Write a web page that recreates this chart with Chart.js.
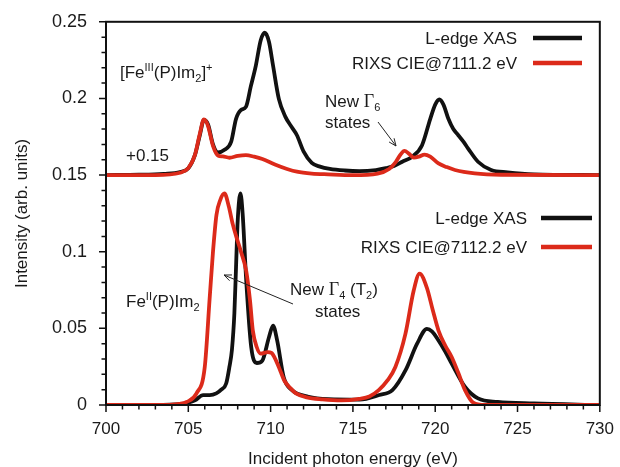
<!DOCTYPE html>
<html>
<head>
<meta charset="utf-8">
<script src="https://cdn.jsdelivr.net/npm/chart.js@4.4.0/dist/chart.umd.min.js"></script>
<style>
  html, body { margin: 0; padding: 0; background: #fff; }
</style>
</head>
<body>
<canvas id="spectra" width="620" height="467"></canvas>
<script>
// Fe(III) spectra, plotted with the +0.15 offset already included
const feIIIXasEnergy = [700, 702, 703.5, 704.5, 705.0, 705.4, 705.7, 705.95, 706.2, 706.5, 706.8, 707.2, 707.6, 707.9, 708.2, 708.5, 708.8, 709.1, 709.4, 709.65, 709.9, 710.15, 710.5, 710.9, 711.3, 711.6, 712.0, 712.5, 713.0, 713.6, 714.5, 715.4, 716.4, 717.0, 717.5, 718.0, 718.6, 719.2, 719.7, 720.0, 720.25, 720.5, 720.8, 721.1, 721.4, 721.7, 722.0, 722.6, 723.4, 724.4, 726, 730];
const feIIIXasIntensity = [0.1500, 0.1502, 0.1508, 0.1520, 0.1545, 0.1630, 0.1760, 0.1860, 0.1830, 0.1700, 0.1648, 0.1665, 0.1716, 0.1867, 0.1925, 0.1945, 0.2080, 0.2213, 0.2380, 0.2429, 0.2370, 0.2213, 0.1997, 0.1880, 0.1810, 0.1760, 0.1655, 0.1580, 0.1555, 0.1540, 0.1530, 0.1526, 0.1533, 0.1545, 0.1560, 0.1587, 0.1620, 0.1695, 0.1867, 0.1960, 0.1993, 0.1960, 0.1867, 0.1800, 0.1760, 0.1720, 0.1673, 0.1587, 0.1533, 0.1518, 0.1505, 0.1500];

const feIIIRixsEnergy = [700, 703, 704.5, 705.0, 705.4, 705.7, 705.95, 706.2, 706.5, 706.8, 707.1, 707.5, 708.0, 708.5, 709.0, 709.5, 710.3, 711.0, 711.6, 712.5, 713.5, 715, 716.5, 717.2, 717.6, 717.9, 718.13, 718.4, 718.7, 719.0, 719.35, 719.7, 720.2, 720.7, 721.2, 722.4, 724, 730];
const feIIIRixsIntensity = [0.1500, 0.1500, 0.1515, 0.1545, 0.1630, 0.1770, 0.1863, 0.1820, 0.1690, 0.1628, 0.1622, 0.1613, 0.1625, 0.1630, 0.1620, 0.1605, 0.1568, 0.1540, 0.1522, 0.1510, 0.1505, 0.1500, 0.1510, 0.1540, 0.1585, 0.1635, 0.1658, 0.1640, 0.1614, 0.1620, 0.1634, 0.1620, 0.1576, 0.1552, 0.1533, 0.1511, 0.1502, 0.1500];

// Fe(II) spectra
const feIIXasEnergy = [700, 703, 704.5, 705.0, 705.4, 705.9, 706.3, 706.7, 707.0, 707.3, 707.5, 707.65, 707.8, 707.9, 708.0, 708.17, 708.3, 708.52, 708.82, 709.16, 709.5, 709.9, 710.15, 710.4, 710.8, 711.3, 712.3, 713.5, 715.4, 716.6, 717.4, 718.2, 718.9, 719.5, 719.8, 720.2, 720.6, 721.0, 721.8, 722.6, 723.8, 726, 730];
const feIIXasIntensity = [0, 0, 0.0005, 0.0015, 0.0030, 0.0065, 0.0065, 0.0076, 0.0100, 0.0140, 0.0250, 0.0360, 0.0600, 0.0900, 0.1200, 0.1380, 0.1250, 0.0810, 0.0380, 0.0274, 0.0290, 0.0442, 0.0518, 0.0420, 0.0180, 0.0097, 0.0054, 0.0038, 0.0035, 0.0065, 0.0097, 0.0227, 0.0400, 0.0497, 0.0480, 0.0421, 0.0350, 0.0270, 0.0119, 0.0043, 0.0020, 0.0010, 0];

const feIIRixsEnergy = [700, 703, 704.5, 704.9, 705.5, 706.0, 706.3, 706.5, 706.71, 706.95, 707.2, 707.45, 707.7, 707.91, 708.2, 708.52, 708.75, 708.92, 709.15, 709.4, 709.83, 710.05, 710.33, 710.6, 710.83, 711.2, 711.54, 712.2, 713.15, 714.3, 715.37, 716.0, 716.57, 717.1, 717.58, 718.19, 718.69, 719.05, 719.49, 719.85, 720.2, 720.6, 721.0, 721.4, 721.81, 722.31, 723, 730];
const feIIRixsIntensity = [0, 0, 0.0008, 0.0020, 0.0076, 0.0248, 0.0700, 0.1000, 0.1240, 0.1340, 0.1380, 0.1300, 0.1180, 0.1100, 0.1000, 0.0874, 0.0680, 0.0486, 0.0380, 0.0335, 0.0345, 0.0340, 0.0290, 0.0220, 0.0160, 0.0110, 0.0076, 0.0050, 0.0037, 0.0030, 0.0040, 0.0055, 0.0097, 0.0160, 0.0248, 0.0464, 0.0745, 0.0857, 0.0766, 0.0620, 0.0486, 0.0390, 0.0313, 0.0210, 0.0097, 0.0015, 0, 0];

const xTicks = [700, 705, 710, 715, 720, 725, 730];
const yTicks = ['0', '0.05', '0.1', '0.15', '0.2', '0.25'];

const BLACK = '#111111';
const RED = '#dc2a1a';
const SANS = '"Liberation Sans", Arial, sans-serif';
const SERIF = '"Liberation Serif", "Times New Roman", serif';

function toPoints(xs, ys) {
  return xs.map((x, i) => ({ x, y: ys[i] }));
}

// lower order draws on top, so the red RIXS traces sit over the black XAS ones
function lineSet(label, xs, ys, color, order) {
  return {
    label,
    data: toPoints(xs, ys),
    borderColor: color,
    borderWidth: 3.8,
    pointRadius: 0,
    fill: false,
    order,
    cubicInterpolationMode: 'monotone',
    borderJoinStyle: 'round',
    borderCapStyle: 'round'
  };
}

// draw text made of normal / sup / sub pieces, starting at x (left aligned)
function richText(ctx, x, y, parts) {
  ctx.textAlign = 'left';
  ctx.textBaseline = 'alphabetic';
  parts.forEach(([txt, mode, serif]) => {
    let size = 17, dy = 0;
    if (mode === 'sup') { size = 11; dy = -7; }
    if (mode === 'sub') { size = 11; dy = 4; }
    if (serif) size += 1;
    ctx.font = `${size}px ${serif ? SERIF : SANS}`;
    ctx.fillText(txt, x, y + dy);
    x += ctx.measureText(txt).width;
  });
}

function arrow(ctx, x1, y1, x2, y2) {
  const a = Math.atan2(y2 - y1, x2 - x1);
  const h = 8;
  ctx.beginPath();
  ctx.moveTo(x1, y1);
  ctx.lineTo(x2, y2);
  ctx.moveTo(x2 - h * Math.cos(a - 0.4), y2 - h * Math.sin(a - 0.4));
  ctx.lineTo(x2, y2);
  ctx.lineTo(x2 - h * Math.cos(a + 0.4), y2 - h * Math.sin(a + 0.4));
  ctx.stroke();
}

function legendRow(ctx, text, xRight, y, color, x1, x2) {
  ctx.font = `17px ${SANS}`;
  ctx.textAlign = 'right';
  ctx.textBaseline = 'middle';
  ctx.fillStyle = '#1a1a1a';
  ctx.fillText(text, xRight, y + 1);
  ctx.strokeStyle = color;
  ctx.lineWidth = 4.5;
  ctx.beginPath();
  ctx.moveTo(x1, y);
  ctx.lineTo(x2, y);
  ctx.stroke();
}

const decor = {
  id: 'decor',
  afterDraw(chart) {
    const { ctx, chartArea: a, scales: { x, y } } = chart;
    ctx.save();

    // frame
    ctx.strokeStyle = BLACK;
    ctx.lineWidth = 2;
    ctx.strokeRect(a.left, a.top, a.right - a.left, a.bottom - a.top);

    // ticks, major every 5 eV / 0.05, minor every 1 eV / 0.01
    ctx.lineWidth = 1.5;
    ctx.beginPath();
    for (let v = 700; v <= 730; v++) {
      const px = x.getPixelForValue(v);
      const len = v % 5 === 0 ? 7 : 4.5;
      ctx.moveTo(px, a.bottom);
      ctx.lineTo(px, a.bottom + len);
    }
    for (let k = 0; k <= 25; k++) {
      const py = y.getPixelForValue(k / 100);
      const len = k % 5 === 0 ? 7 : 4.5;
      ctx.moveTo(a.left, py);
      ctx.lineTo(a.left - len, py);
    }
    ctx.stroke();

    // axis titles
    ctx.fillStyle = '#1a1a1a';
    ctx.font = `17px ${SANS}`;
    ctx.textAlign = 'center';
    ctx.textBaseline = 'alphabetic';
    ctx.fillText('Incident photon energy (eV)', (a.left + a.right) / 2, 464);
    ctx.save();
    ctx.translate(27, (a.top + a.bottom) / 2);
    ctx.rotate(-Math.PI / 2);
    ctx.fillText('Intensity (arb. units)', 0, 0);
    ctx.restore();

    // legends
    legendRow(ctx, 'L-edge XAS', 517, 38, BLACK, 533, 582);
    legendRow(ctx, 'RIXS CIE@7111.2 eV', 517, 63, RED, 533, 582);
    legendRow(ctx, 'L-edge XAS', 527, 218, BLACK, 541, 592);
    legendRow(ctx, 'RIXS CIE@7112.2 eV', 527, 247, RED, 541, 592);

    // labels
    ctx.fillStyle = '#1a1a1a';
    richText(ctx, 120, 78, [['[Fe'], ['III', 'sup'], ['(P)Im'], ['2', 'sub'], [']'], ['+', 'sup']]);
    richText(ctx, 126, 161, [['+0.15']]);
    richText(ctx, 126, 307, [['Fe'], ['II', 'sup'], ['(P)Im'], ['2', 'sub']]);
    richText(ctx, 325, 107, [['New '], ['\u0393', 'n', true], ['6', 'sub']]);
    richText(ctx, 325, 128, [['states']]);
    richText(ctx, 290, 295, [['New '], ['\u0393', 'n', true], ['4', 'sub'], [' (T'], ['2', 'sub'], [')']]);
    richText(ctx, 315, 317, [['states']]);

    // arrows
    ctx.strokeStyle = '#222';
    ctx.lineWidth = 1;
    arrow(ctx, 378, 122, 396, 146);
    arrow(ctx, 293, 304, 224, 275);

    ctx.restore();
  }
};

new Chart(document.getElementById('spectra'), {
  type: 'line',
  data: {
    datasets: [
      lineSet('Fe(III) L-edge XAS', feIIIXasEnergy, feIIIXasIntensity, BLACK, 1),
      lineSet('Fe(III) RIXS CIE@7111.2 eV', feIIIRixsEnergy, feIIIRixsIntensity, RED, 0),
      lineSet('Fe(II) L-edge XAS', feIIXasEnergy, feIIXasIntensity, BLACK, 1),
      lineSet('Fe(II) RIXS CIE@7112.2 eV', feIIRixsEnergy, feIIRixsIntensity, RED, 0)
    ]
  },
  plugins: [decor],
  options: {
    responsive: false,
    animation: false,
    layout: { padding: { top: 19, right: 18, left: 0, bottom: 0 } },
    plugins: { legend: { display: false }, tooltip: { enabled: false } },
    scales: {
      x: {
        type: 'linear',
        min: 700,
        max: 730,
        grid: { display: false },
        border: { display: false },
        ticks: {
          stepSize: 1,
          autoSkip: false,
          maxRotation: 0,
          padding: 6,
          color: '#1a1a1a',
          font: { family: SANS, size: 17 },
          callback: v => (xTicks.includes(v) ? String(v) : '')
        },
        afterFit: s => { s.height = 62; }
      },
      y: {
        min: 0,
        max: 0.25,
        grid: { display: false },
        border: { display: false },
        ticks: {
          stepSize: 0.01,
          autoSkip: false,
          padding: 11,
          color: '#1a1a1a',
          font: { family: SANS, size: 18 },
          callback: v => {
            const k = Math.round(v * 100);
            return k % 5 === 0 ? yTicks[k / 5] : '';
          }
        },
        afterFit: s => { s.width = 106; }
      }
    }
  }
});
</script>
</body>
</html>
